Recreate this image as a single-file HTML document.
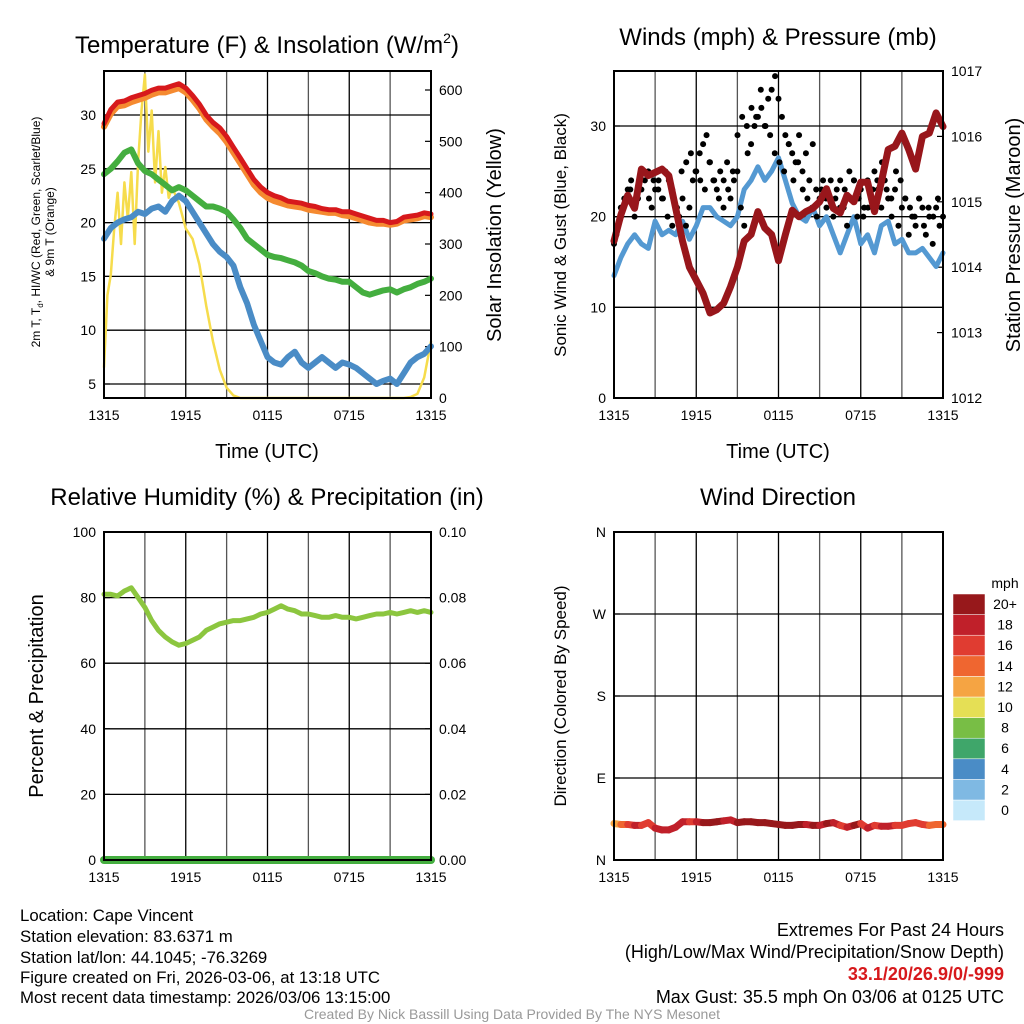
<!DOCTYPE html>
<html><head><meta charset="utf-8"><style>
body{margin:0;background:#fff}
svg{display:block;font-family:"Liberation Sans",Arial,sans-serif}
</style></head><body>
<svg id="s" width="1024" height="1024" viewBox="0 0 1024 1024" xmlns="http://www.w3.org/2000/svg">
<g id="g"></g>
<text x="267" y="53" font-size="24" text-anchor="middle">Temperature (F) &amp; Insolation (W/m<tspan font-size="14" dy="-10">2</tspan><tspan dy="10">)</tspan></text>
<text x="778" y="45" font-size="24" text-anchor="middle">Winds (mph) &amp; Pressure (mb)</text>
<text x="267" y="505" font-size="24" text-anchor="middle">Relative Humidity (%) &amp; Precipitation (in)</text>
<text x="778" y="505" font-size="24" text-anchor="middle">Wind Direction</text>
<text x="267" y="458" font-size="20" text-anchor="middle">Time (UTC)</text>
<text x="778" y="458" font-size="20" text-anchor="middle">Time (UTC)</text>
<text transform="translate(40,232) rotate(-90)" font-size="12" text-anchor="middle">2m T, T<tspan font-size="8" dy="3">d</tspan><tspan dy="-3">, HI/WC (Red, Green, Scarlet/Blue)</tspan></text>
<text transform="translate(54,232) rotate(-90)" font-size="12" text-anchor="middle">&amp; 9m T (Orange)</text>
<text transform="translate(501,235) rotate(-90)" font-size="20" text-anchor="middle">Solar Insolation (Yellow)</text>
<text transform="translate(566,235) rotate(-90)" font-size="17" text-anchor="middle">Sonic Wind &amp; Gust (Blue, Black)</text>
<text transform="translate(1020,235) rotate(-90)" font-size="20" text-anchor="middle">Station Pressure (Maroon)</text>
<text transform="translate(43,696) rotate(-90)" font-size="20" text-anchor="middle">Percent &amp; Precipitation</text>
<text transform="translate(566,696) rotate(-90)" font-size="17" text-anchor="middle">Direction (Colored By Speed)</text>
<g font-size="16.8">
<text x="20" y="921">Location: Cape Vincent</text>
<text x="20" y="942">Station elevation: 83.6371 m</text>
<text x="20" y="963">Station lat/lon: 44.1045; -76.3269</text>
<text x="20" y="983">Figure created on Fri, 2026-03-06, at 13:18 UTC</text>
<text x="20" y="1003">Most recent data timestamp: 2026/03/06 13:15:00</text>
</g>
<g font-size="18" text-anchor="end">
<text x="1004" y="936">Extremes For Past 24 Hours</text>
<text x="1004" y="958">(High/Low/Max Wind/Precipitation/Snow Depth)</text>
<text x="1004" y="980" fill="#d7191c" font-weight="bold">33.1/20/26.9/0/-999</text>
<text x="1004" y="1003">Max Gust: 35.5 mph On 03/06 at 0125 UTC</text>
</g>
<text x="512" y="1019" font-size="14" fill="#999" text-anchor="middle">Created By Nick Bassill Using Data Provided By The NYS Mesonet</text>
</svg>
<script>
const temp2m=[29.2,30.5,31.2,31.3,31.6,31.8,32.0,32.3,32.5,32.5,32.7,32.9,32.5,31.8,31.0,30.0,29.3,28.8,28.0,27.0,26.0,25.0,24.0,23.3,22.8,22.5,22.3,22.0,21.9,21.8,21.6,21.5,21.3,21.2,21.2,21.0,21.0,20.8,20.6,20.4,20.2,20.2,20.0,20.1,20.5,20.6,20.7,20.9,20.8];
const temp9m=[28.9,30.1,30.8,30.9,31.2,31.4,31.6,31.9,32.1,32.1,32.3,32.5,32.1,31.4,30.6,29.6,28.9,28.3,27.5,26.5,25.5,24.5,23.5,22.8,22.3,22.0,21.8,21.6,21.5,21.4,21.2,21.1,21.0,20.9,20.9,20.7,20.6,20.4,20.2,20.0,19.9,19.9,19.8,19.9,20.2,20.3,20.4,20.6,20.5];
const dewpt=[24.5,25.0,25.7,26.5,26.8,25.5,24.8,24.5,24.0,23.5,23.0,23.3,23.0,22.5,22.0,21.5,21.5,21.3,21.0,20.3,19.5,18.5,18.0,17.5,17.0,16.8,16.7,16.5,16.3,16.0,15.5,15.3,15.0,14.8,14.7,14.5,14.5,14.0,13.5,13.3,13.5,13.7,13.8,13.5,13.8,14.0,14.3,14.5,14.8];
const windChill=[18.5,19.5,20.0,20.3,20.5,21.0,20.8,21.3,21.5,21.0,22.0,22.5,22.0,21.0,20.0,19.0,18.0,17.3,16.8,16.0,14.0,12.5,10.5,9.0,7.5,7.0,6.8,7.5,8.0,7.0,6.5,7.0,7.5,7.0,6.5,7.0,6.8,6.5,6.0,5.5,5.0,5.3,5.5,5.0,6.0,7.0,7.5,7.8,8.5];
const solarHours=[0,0.25,0.5,0.75,1,1.25,1.5,1.75,2,2.25,2.5,2.75,3,3.25,3.5,3.75,4,4.25,4.5,4.75,5,5.5,6,6.5,7,7.5,8,8.5,9,9.5,10,10.5,21,21.5,22,22.5,23,23.5,24];
const solar=[60,200,240,330,400,300,420,350,440,300,460,560,630,480,560,420,520,400,450,390,410,380,330,310,260,180,110,55,20,5,0,0,0,0,0,2,8,40,110];
const wind=[13.5,15.5,17,18,17,16.5,19.5,18,18.5,18,19.5,17.5,19,21,21,20,19.5,19,20,23,24,25.5,24,25,26.5,24,21.5,20,19.5,21,19,20,18,16,18,20,17,18,16,19,19.5,17,17.5,16,16,16.5,15.5,14.5,16];
const gust=[17,19,21,22,23,24,20,22,23,24,25,21,23,24,22,25,24,23,21,20,22,19,21,24,25,27,28,29,26,24,23,25,24,26,22,24,25,21,19,27,28,30,31,32,30,33,34,35.5,33,31,29,28,27,26,29,25,27,24,28,23,22,24,21,22,20,23,24,21,19,22,24,20,23,21,24,22,25,23,21,24,22,20,23,19,21,22,18,20,19,22,21,18,20,17,21,19,20];
const gust2=[18,20,22,23,21,24,25,22,24,23,22,20,19,21,25,26,27,25,24,23,26,24,22,21,23,25,29,31,30,32,31,34,30,29,27,26,25,28,24,26,23,22,21,20,23,22,24,22,21,23,25,24,22,20,21,23,24,26,23,22,25,24,22,21,20,22,19,21,20,22];
const pressure=[1014.4,1014.8,1015.1,1014.9,1015.5,1015.4,1015.45,1015.5,1015.4,1014.9,1014.4,1014.0,1013.8,1013.6,1013.3,1013.35,1013.45,1013.7,1014.0,1014.4,1014.5,1014.85,1014.6,1014.5,1014.1,1014.5,1014.87,1014.77,1014.85,1014.9,1015.0,1015.2,1014.9,1014.83,1015.1,1015.0,1015.3,1015.3,1014.85,1015.3,1015.8,1015.85,1016.05,1015.8,1015.5,1016.0,1016.05,1016.36,1016.15];
const rh=[81,81,80.5,82,83,80,77,73,70,68,66.5,65.5,66,67,68,70,71,72,72.5,73,73,73.5,74,75,75.5,76.5,77.5,76.5,76,75,75,74.5,74,74,74.5,74,74,73.5,74,74.5,75,75,75.5,75,75.5,76,75.5,76,75.5];
const direction=[40,39,39,38,38,41,35,33,33,36,42,42,42,41,41,42,43,44,41,42,42,41,41,40,39,38,38,39,39,38,38,40,41,38,36,38,40,35,38,37,37,38,38,40,41,39,38,39,39];
const timeTicks=["1315","1915","0115","0715","1315"];
const tempTicks=[5,10,15,20,25,30];
const solarTicks=[0,100,200,300,400,500,600];
const windTicks=[0,10,20,30];
const pressTicks=[1012,1013,1014,1015,1016,1017];
const rhTicks=[0,20,40,60,80,100];
const precipTicks=["0.00","0.02","0.04","0.06","0.08","0.10"];
const dirTicks=["N","E","S","W","N"];
const cbLabels=["0","2","4","6","8","10","12","14","16","18","20+"];
const cbColors=["#c6e9fa","#7fb9e3","#4a8cc6","#3fa66a","#78be45","#e5df55","#f5a443","#ef6630","#e03c31","#c0202a","#97181b"];

const NS="http://www.w3.org/2000/svg";const G=document.getElementById('g');
function mk(t,a,p){const e=document.createElementNS(NS,t);for(const k in a)e.setAttribute(k,a[k]);(p||G).appendChild(e);return e;}
function lin(d0,d1,r0,r1){return v=>r0+(v-d0)*(r1-r0)/(d1-d0);}
const P={t:{x0:104,x1:431,y0:71,y1:398},w:{x0:614,x1:943,y0:71,y1:398},r:{x0:104,x1:431,y0:532,y1:860},d:{x0:614,x1:943,y0:532,y1:860}};
const X={};for(const k in P)X[k]=lin(0,24,P[k].x0,P[k].x1);
const yT=lin(5,30,384,115),yS=lin(0,600,398,90),yW=lin(0,30,398,126),yP=lin(1012,1017,398,71),yR=lin(0,100,860,532),yD=lin(0,360,860,532);
function frame(k,name){const p=P[k];
 for(let i=1;i<8;i++){const x=X[k](i*3);const l=mk('line',{x1:x,x2:x,y1:p.y0,y2:p.y1,stroke:i%2?'#555':'#000','stroke-width':1.3});
 }
 timeTicks.forEach((t,i)=>{const tx=mk('text',{x:X[k](i*6),y:p.y1+22,'font-size':14,'text-anchor':'middle'});tx.textContent=t;
 });}
function hgrid(k,y,name){const p=P[k];const l=mk('line',{x1:p.x0,x2:p.x1,y1:y,y2:y,stroke:'#000','stroke-width':1.3});
 }
function border(k,name){const p=P[k];const r=mk('rect',{x:p.x0,y:p.y0,width:p.x1-p.x0,height:p.y1-p.y0,fill:'none',stroke:'#000','stroke-width':2});
 }
function tick(x,y,txt,anchor,dir,name){mk('line',{x1:x,x2:x+dir*6,y1:y,y2:y,stroke:'#000','stroke-width':1.2});
 const t=mk('text',{x:x-dir*8,y:y+5,'font-size':14,'text-anchor':anchor});t.textContent=txt;
 }
function path(hs,vs,xs,ys,col,w,name){let d='';vs.forEach((v,i)=>{d+=(i?'L':'M')+xs(hs[i]).toFixed(1)+','+ys(v).toFixed(1);});
 const e=mk('path',{d:d,fill:'none',stroke:col,'stroke-width':w,'stroke-linejoin':'round','stroke-linecap':'round'});
 }
const H=temp2m.map((_,i)=>i*0.5);

// Panel 1
frame('t','temp');
tempTicks.forEach(v=>{hgrid('t',yT(v),'temp-hgrid');tick(P.t.x0,yT(v),String(v),'end',1,'temp-y-tick-label');});
solarTicks.forEach(v=>tick(P.t.x1,yS(v),String(v),'start',-1,'solar-y-tick-label'));
path(solarHours,solar,X.t,yS,'#f6dc4c',2.5,'solar-line');
path(H,windChill,X.t,yT,'#4a8cc6',6,'windchill-line');
path(H,dewpt,X.t,yT,'#44ae3f',6,'dewpoint-line');
path(H,temp9m,X.t,yT,'#f58a30',6,'temp-9m-line');
path(H,temp2m,X.t,yT,'#d7191c',5,'temp-2m-line');
border('t','temp-plot-frame');

// Panel 2
frame('w','wind');
windTicks.forEach(v=>{if(v)hgrid('w',yW(v),'wind-hgrid');tick(P.w.x0,yW(v),String(v),'end',1,'wind-y-tick-label');});
pressTicks.forEach(v=>tick(P.w.x1,yP(v),String(v),'start',-1,'pressure-y-tick-label'));
path(H,wind,X.w,yW,'#5499d2',5,'wind-speed-line');
gust.forEach((v,i)=>{const c=mk('circle',{cx:X.w(i*0.25),cy:yW(v),r:3,fill:'#000'});
 });
gust2.forEach((v,i)=>{const c=mk('circle',{cx:X.w(0.17+i*0.34),cy:yW(v),r:3,fill:'#000'});
 });
path(H,pressure,X.w,yP,'#98161b',7,'pressure-line');
border('w','wind-plot-frame');

// Panel 3
frame('r','rh');
rhTicks.forEach((v,i)=>{if(v&&v<100)hgrid('r',yR(v),'rh-hgrid');tick(P.r.x0,yR(v),String(v),'end',1,'rh-y-tick-label');
 tick(P.r.x1,yR(v),precipTicks[i],'start',-1,'precip-y-tick-label');});
path(H,rh,X.r,yR,'#8cc63f',5,'rh-line');
path([0,24],[0,0],X.r,yR,'#44ae3f',8,'precip-line');
border('r','rh-plot-frame');

// Panel 4
frame('d','dir');
dirTicks.forEach((t,i)=>{if(i&&i<4)hgrid('d',yD(i*90),'dir-hgrid');tick(P.d.x0,yD(i*90),t,'end',1,'dir-y-tick-label');});
function spdColor(s){return cbColors[Math.min(10,Math.floor(s/2))];}
for(let i=0;i<direction.length-1;i++){const l=mk('line',{x1:X.d(H[i]),y1:yD(direction[i]),x2:X.d(H[i+1]),y2:yD(direction[i+1]),stroke:spdColor(wind[i]),'stroke-width':7,'stroke-linecap':'round'});
 }
border('d','dir-plot-frame');
const cb=mk('g',{});
cbColors.forEach((c,i)=>{const y=800-i*20.6;const r=mk('rect',{x:953,y:y,width:32,height:20.6,fill:c,stroke:'#fff','stroke-width':0.5},cb);
 
 const t=mk('text',{x:1005,y:y+15,'font-size':14,'text-anchor':'middle'},cb);t.textContent=cbLabels[i];
 });
const mt=mk('text',{x:1005,y:588,'font-size':14,'text-anchor':'middle'},cb);mt.textContent='mph';

</script>
</body></html>
